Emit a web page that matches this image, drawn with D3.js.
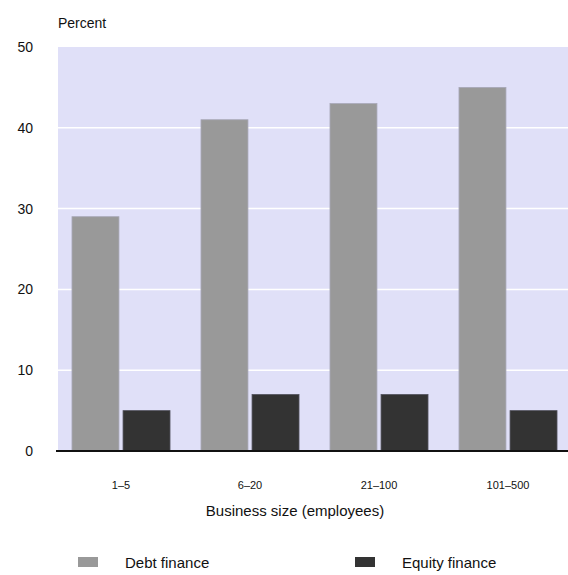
<!DOCTYPE html>
<html>
<head>
<meta charset="utf-8">
<script src="https://cdn.jsdelivr.net/npm/d3@7"></script>
<style>
  body { margin: 0; background: #fff; }
  svg text { font-family: "Liberation Sans", Arial, sans-serif; fill: #111; }
</style>
</head>
<body>
<div id="chart"></div>
<script>
const categories = ['1-5', '6-20', '21-100', '101-500'];
const seriesNames = ['Debt finance', 'Equity finance'];
const debtValues = [29, 41, 43, 45];
const equityValues = [5, 7, 7, 5];
const yTicks = [0, 10, 20, 30, 40, 50];

const colors = { 'Debt finance': '#999999', 'Equity finance': '#333333' };

const W = 568, H = 575;
const svg = d3.select('#chart').append('svg')
    .attr('width', W)
    .attr('height', H);

const plotLeft = 58, plotRight = 568, plotTop = 47, plotBottom = 451;

const x0 = d3.scaleBand().domain(categories).range([56.5, 572.5])
    .paddingInner(0.24).paddingOuter(0.12);
const x1 = d3.scaleBand().domain(seriesNames).range([0, x0.bandwidth()]).paddingInner(0.08);
const y = d3.scaleLinear().domain([0, 50]).range([plotBottom, plotTop]);

// plot background
svg.append('rect')
    .attr('x', plotLeft).attr('y', y(50))
    .attr('width', plotRight - plotLeft).attr('height', y(0) - y(50))
    .attr('fill', '#e0e0f8');

// gridlines
svg.append('g').selectAll('line')
    .data(yTicks.filter(d => d > 0 && d < 50))
    .join('line')
    .attr('x1', plotLeft).attr('x2', plotRight)
    .attr('y1', d => y(d)).attr('y2', d => y(d))
    .attr('stroke', '#fff').attr('stroke-width', 1.5);

// y axis labels
const yAxis = d3.axisLeft(y).tickValues(yTicks).tickSize(0).tickPadding(0);
const gy = svg.append('g').attr('transform', 'translate(33,0)').call(yAxis);
gy.select('.domain').remove();
gy.selectAll('text').attr('font-size', 14).style('font-family', '"Liberation Sans", Arial, sans-serif').attr('fill', '#222');

svg.append('text').attr('x', 58).attr('y', 28).attr('font-size', 14).text('Percent');

// bars
const rows = categories.map((c, i) => ({ cat: c, vals: [
    { key: seriesNames[0], v: debtValues[i] },
    { key: seriesNames[1], v: equityValues[i] }
]}));

svg.append('g').selectAll('g')
    .data(rows)
    .join('g')
    .attr('transform', d => `translate(${x0(d.cat)},0)`)
    .selectAll('rect')
    .data(d => d.vals)
    .join('rect')
    .attr('x', d => x1(d.key))
    .attr('y', d => y(d.v))
    .attr('width', x1.bandwidth())
    .attr('height', d => y(0) - y(d.v))
    .attr('fill', d => colors[d.key])
    .attr('stroke', d => d.key === 'Debt finance' ? '#a8a8b8' : '#555560')
    .attr('stroke-width', 0.8);

// baseline
svg.append('line')
    .attr('x1', 56).attr('x2', 568)
    .attr('y1', y(0)).attr('y2', y(0))
    .attr('stroke', '#111').attr('stroke-width', 2);

// x axis labels
const xAxis = d3.axisBottom(x0).tickSize(0).tickPadding(0)
    .tickFormat(d => d.replace('-', '\u2013'));
const gx = svg.append('g').attr('transform', 'translate(0,481)').call(xAxis);
gx.select('.domain').remove();
gx.selectAll('text').attr('font-size', 11).style('font-family', '"Liberation Sans", Arial, sans-serif').attr('fill', '#111');

svg.append('text').attr('x', 295).attr('y', 516).attr('text-anchor', 'middle')
    .attr('font-size', 15).text('Business size (employees)');

// legend
const legendX = [78, 355];
const lg = svg.append('g').selectAll('g')
    .data(seriesNames)
    .join('g')
    .attr('transform', (d, i) => `translate(${legendX[i]},557)`);
lg.append('rect').attr('width', 20).attr('height', 10).attr('fill', d => colors[d]);
lg.append('text').attr('x', 47).attr('y', 11).attr('font-size', 15).text(d => d);
</script>
</body>
</html>
